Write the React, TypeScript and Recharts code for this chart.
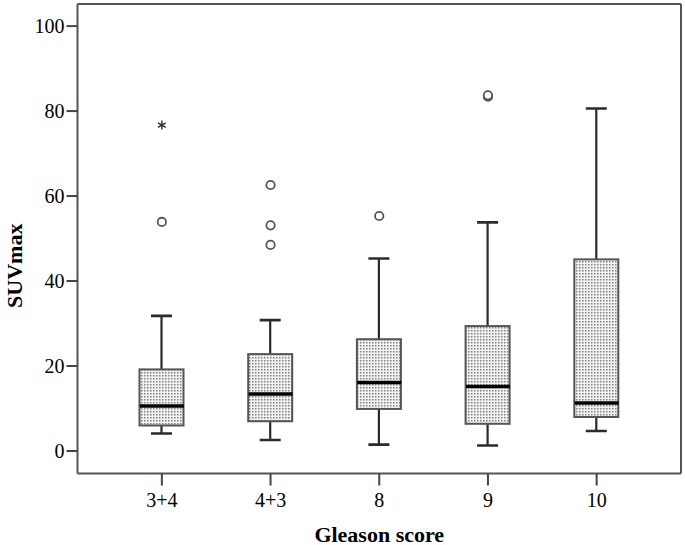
import React from "react";
import { ComposedChart, Bar, Scatter, XAxis, YAxis } from "recharts";

const groups = ["3+4", "4+3", "8", "9", "10"];
const mins = [4.1, 2.6, 1.5, 1.3, 4.7];
const q1s = [6.0, 7.0, 9.9, 6.4, 8.0];
const medians = [10.6, 13.4, 16.1, 15.2, 11.3];
const q3s = [19.2, 22.8, 26.3, 29.4, 45.1];
const maxs = [31.8, 30.8, 45.3, 53.8, 80.6];
// circles (mild outliers) and stars (extremes) per group
const outliers: number[][] = [[53.9], [62.6, 53.1, 48.5], [55.3], [83.4, 83.7], []];
const extremes: number[][] = [[76.7], [], [], [], []];
const yTicks = [0, 20, 40, 60, 80, 100];

const rows = groups.map((group, i) => ({
  group,
  min: mins[i],
  q1: q1s[i],
  median: medians[i],
  q3: q3s[i],
  max: maxs[i],
  out0: outliers[i][0] ?? null,
  out1: outliers[i][1] ?? null,
  out2: outliers[i][2] ?? null,
  ext0: extremes[i][0] ?? null,
}));

const FONT = "Liberation Serif, Times New Roman, serif";
const BOX_W = 44;
const CAP_W = 21;
const FRAME = { stroke: "#555", strokeWidth: 2 };

const Whisker = (props: any) => {
  const { x, y, width, height } = props;
  const cx = x + width / 2;
  return (
    <g stroke="#2b2b2b" strokeWidth={2.2}>
      <line x1={cx} x2={cx} y1={y} y2={y + height} />
      <line x1={cx - CAP_W / 2} x2={cx + CAP_W / 2} y1={y} y2={y} strokeWidth={2.6} />
      <line x1={cx - CAP_W / 2} x2={cx + CAP_W / 2} y1={y + height} y2={y + height} strokeWidth={2.6} />
    </g>
  );
};

const BoxShape = (props: any) => {
  const { x, y, width, height } = props;
  return (
    <rect x={x} y={y} width={width} height={height} fill="url(#dots)" stroke="#555" strokeWidth={2} />
  );
};

const MedianShape = (props: any) => {
  const { cx, cy } = props;
  return <line x1={cx - BOX_W / 2} x2={cx + BOX_W / 2} y1={cy} y2={cy} stroke="#000" strokeWidth={3.5} />;
};

const circleShape = (key: string) => (props: any) => {
  const { cx, cy, payload } = props;
  if (payload == null || payload[key] == null) return <g />;
  return <circle cx={cx} cy={cy} r={4.2} fill="#fff" stroke="#555" strokeWidth={1.8} />;
};

const StarShape = (props: any) => {
  const { cx, cy, payload } = props;
  if (payload == null || payload.ext0 == null) return <g />;
  const r = 4.5;
  const arms = [90, 30, 150];
  return (
    <g stroke="#333" strokeWidth={1.5}>
      {arms.map((a) => {
        const dx = Math.cos((a * Math.PI) / 180) * r;
        const dy = Math.sin((a * Math.PI) / 180) * r;
        return <line key={a} x1={cx - dx} y1={cy - dy} x2={cx + dx} y2={cy + dy} />;
      })}
    </g>
  );
};

const Nothing = () => <g />;

const XTick = (props: any) => {
  const { x, y, payload } = props;
  return (
    <text x={x} y={y} dy={13.5} textAnchor="middle" fontFamily={FONT} fontSize={20} fill="#000">
      {payload.value}
    </text>
  );
};

const YTick = (props: any) => {
  const { x, y, payload } = props;
  return (
    <text x={x} y={y} dy={7} textAnchor="end" fontFamily={FONT} fontSize={20} fill="#000">
      {payload.value}
    </text>
  );
};

const YLabel = (props: any) => {
  const { viewBox } = props;
  const x = viewBox.x + 14;
  const y = viewBox.y + viewBox.height / 2 + 27;
  return (
    <text
      x={x}
      y={y}
      transform={`rotate(-90, ${x}, ${y})`}
      textAnchor="middle"
      dominantBaseline="central"
      fontFamily={FONT}
      fontWeight="bold"
      fontSize={22}
      fill="#000"
    >
      SUVmax
    </text>
  );
};

const XLabel = (props: any) => {
  const { viewBox } = props;
  return (
    <text
      x={viewBox.x + viewBox.width / 2}
      y={541.5}
      textAnchor="middle"
      fontFamily={FONT}
      fontWeight="bold"
      fontSize={22}
      fill="#000"
    >
      Gleason score
    </text>
  );
};

export default function App() {
  return (
    <div style={{ position: "absolute", left: 0, top: 0, background: "#fff" }}>
      <ComposedChart
        width={685}
        height={545}
        data={rows}
        margin={{ top: 3, right: 3, left: 0, bottom: 0 }}
        barSize={BOX_W}
        barGap={-BOX_W}
      >
        <defs>
          <pattern id="dots" width="3" height="3" patternUnits="userSpaceOnUse">
            <rect width="3" height="3" fill="#f2f2f2" />
            <rect x="0" y="0" width="1.5" height="1.5" fill="#808080" />
          </pattern>
        </defs>
        <XAxis
          dataKey="group"
          type="category"
          allowDuplicatedCategory={false}
          padding={{ left: 30, right: 30 }}
          height={71.5}
          tickSize={12}
          tickMargin={8}
          tick={<XTick />}
          axisLine={FRAME}
          tickLine={{ stroke: "#444", strokeWidth: 2 }}
          label={<XLabel />}
        />
        <XAxis
          xAxisId="top"
          dataKey="group"
          orientation="top"
          allowDuplicatedCategory={false}
          height={1}
          tick={false}
          tickLine={false}
          axisLine={FRAME}
        />
        <YAxis
          type="number"
          domain={[-5.3, 105.2]}
          ticks={yTicks}
          allowDataOverflow
          width={77.5}
          tickSize={11}
          tickMargin={2}
          tick={<YTick />}
          axisLine={FRAME}
          tickLine={{ stroke: "#444", strokeWidth: 2 }}
          label={<YLabel />}
        />
        <YAxis
          yAxisId="right"
          orientation="right"
          type="number"
          domain={[-5.3, 105.2]}
          allowDataOverflow
          width={1}
          tick={false}
          tickLine={false}
          axisLine={FRAME}
        />
        <Bar dataKey={(d: any) => [d.min, d.max]} shape={<Whisker />} isAnimationActive={false} />
        <Bar dataKey={(d: any) => [d.q1, d.q3]} shape={<BoxShape />} isAnimationActive={false} />
        <Scatter dataKey="median" shape={<MedianShape />} isAnimationActive={false} />
        <Scatter dataKey="out0" shape={circleShape("out0")} isAnimationActive={false} />
        <Scatter dataKey="out1" shape={circleShape("out1")} isAnimationActive={false} />
        <Scatter dataKey="out2" shape={circleShape("out2")} isAnimationActive={false} />
        <Scatter dataKey="ext0" shape={<StarShape />} isAnimationActive={false} />
        <Scatter
          xAxisId="top"
          yAxisId="right"
          dataKey="median"
          shape={<Nothing />}
          isAnimationActive={false}
        />
      </ComposedChart>
    </div>
  );
}
